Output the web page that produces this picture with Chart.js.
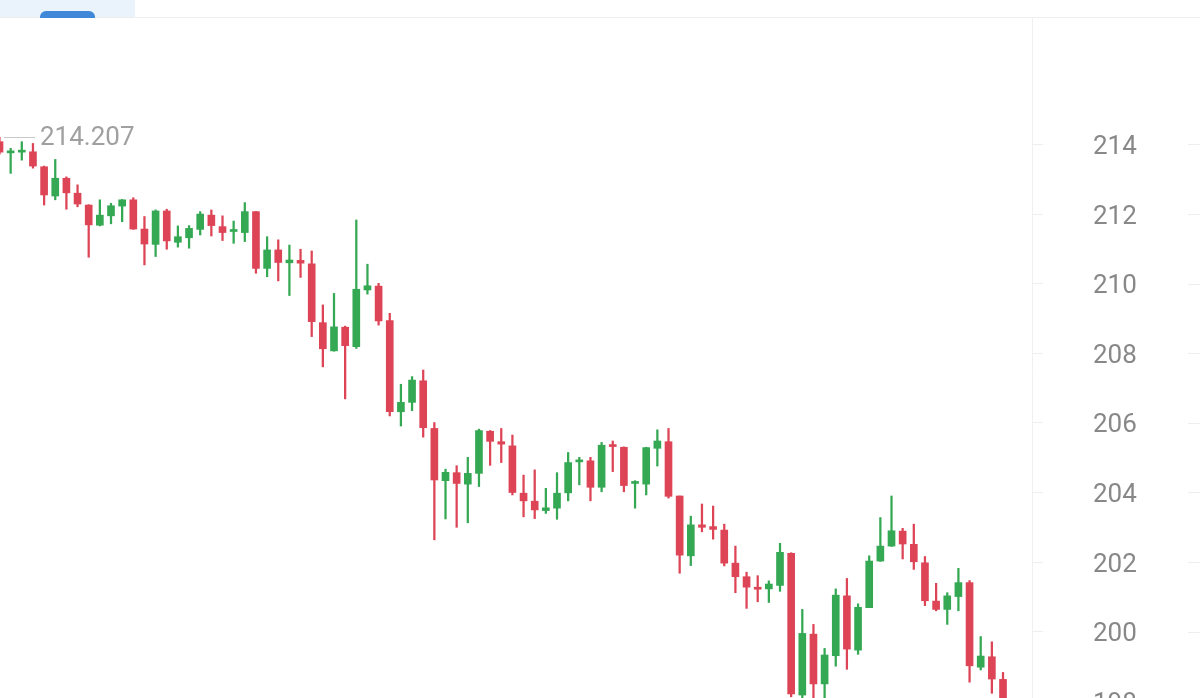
<!DOCTYPE html>
<html>
<head>
<meta charset="utf-8">
<script src="https://cdn.jsdelivr.net/npm/chart.js@4.4.0/dist/chart.umd.min.js"></script>
<style>
  html, body { margin: 0; padding: 0; background: #fff; overflow: hidden; }
  body { width: 1200px; height: 698px; position: relative; }
  #wrap { position: absolute; left: 0; top: 0; width: 1200px; height: 740px; }
  #topbar { position: absolute; left: 0; top: 0; width: 1200px; height: 17px; background: #fff; border-bottom: 1px solid #eeeeee; z-index: 2; }
  #tab { position: absolute; left: 0; top: 0; width: 135px; height: 17px; background: #eaf2fc; }
  #btn { position: absolute; left: 40px; top: 11px; width: 55px; height: 7px; background: #3f87d9; border-radius: 6px 6px 0 0; }
</style>
</head>
<body>
<div id="wrap"><canvas id="myChart" width="1200" height="740"></canvas></div>
<div id="topbar"><div id="tab"></div><div id="btn"></div></div>
<script>
// candles, oldest first
const opens = [
  214.08, 213.76, 213.78, 213.79, 213.36, 212.52, 213.03, 212.60, 212.26, 211.68,
  211.95, 212.23, 212.41, 211.57, 211.13, 212.09, 211.19, 211.32, 211.56, 211.97,
  211.64, 211.50, 211.47, 212.07, 210.44, 210.97, 210.60, 210.67, 210.57, 208.88,
  208.07, 208.75, 208.19, 209.82, 209.93, 208.94, 206.32, 206.59, 207.21, 205.84,
  204.34, 204.57, 204.24, 204.55, 205.76, 205.46, 205.34, 203.98, 203.75, 203.48,
  203.55, 203.99, 204.88, 204.91, 204.15, 205.36, 205.30, 204.26, 204.24, 205.27,
  205.46, 203.90, 202.18, 203.07, 203.02, 202.92, 201.97, 201.58, 201.26, 201.23,
  201.33, 202.25, 198.18, 199.93, 198.50, 199.31, 201.03, 199.47, 200.69, 202.03,
  202.46, 202.89, 202.51, 201.98, 200.88, 200.64, 201.01, 201.41, 198.98, 199.28,
  198.63
];
const highs = [
  214.207, 213.89, 214.08, 214.03, 213.38, 213.57, 213.07, 212.84, 212.27, 212.41,
  212.31, 212.42, 212.47, 211.93, 212.12, 212.14, 211.66, 211.67, 212.07, 212.12,
  211.95, 211.80, 212.33, 212.08, 211.35, 211.26, 211.11, 210.99, 210.94, 209.39,
  209.72, 208.78, 211.83, 210.56, 210.01, 209.15, 207.11, 207.33, 207.52, 206.01,
  204.67, 204.77, 205.01, 205.82, 205.78, 205.84, 205.65, 204.50, 204.65, 204.12,
  204.57, 205.15, 205.01, 205.01, 205.44, 205.48, 205.31, 204.34, 205.30, 205.80,
  205.84, 203.90, 203.32, 203.67, 203.61, 203.09, 202.46, 201.71, 201.61, 201.46,
  202.54, 202.27, 200.64, 200.21, 199.52, 201.23, 201.53, 200.80, 202.18, 203.28,
  203.90, 202.97, 203.09, 202.16, 201.39, 201.12, 201.82, 201.47, 199.86, 199.71,
  198.83
];
const lows = [
  213.72, 213.17, 213.55, 213.32, 212.26, 212.41, 212.14, 212.21, 210.76, 211.66,
  211.72, 211.78, 211.56, 210.54, 210.78, 210.99, 211.05, 211.02, 211.40, 211.37,
  211.24, 211.16, 211.21, 210.30, 210.20, 210.08, 209.66, 210.18, 208.48, 207.61,
  208.06, 206.69, 208.14, 209.70, 208.81, 206.20, 205.91, 206.35, 205.59, 202.64,
  203.24, 203.00, 203.13, 204.17, 204.78, 204.86, 203.93, 203.30, 203.25, 203.40,
  203.23, 203.76, 204.22, 203.76, 204.02, 204.60, 204.02, 203.55, 203.93, 204.76,
  203.84, 201.68, 201.90, 202.87, 202.66, 201.89, 201.12, 200.67, 200.86, 200.84,
  201.16, 198.13, 197.80, 197.75, 197.85, 199.01, 198.92, 199.35, 200.69, 202.02,
  202.45, 202.09, 201.79, 200.75, 200.60, 200.21, 200.60, 198.55, 198.90, 198.23,
  197.60
];
const closes = [
  213.78, 213.81, 213.82, 213.38, 212.55, 213.03, 212.61, 212.29, 211.69, 211.97,
  212.24, 212.41, 211.57, 211.14, 212.09, 211.23, 211.35, 211.59, 212.00, 211.67,
  211.47, 211.52, 212.07, 210.44, 210.97, 210.61, 210.68, 210.59, 208.91, 208.13,
  208.76, 208.22, 209.84, 209.94, 208.93, 206.32, 206.59, 207.23, 205.86, 204.36,
  204.58, 204.26, 204.55, 205.78, 205.47, 205.39, 204.00, 203.76, 203.50, 203.56,
  203.98, 204.86, 204.93, 204.15, 205.36, 205.32, 204.20, 204.31, 205.29, 205.48,
  203.89, 202.20, 203.07, 203.00, 202.94, 201.97, 201.58, 201.28, 201.22, 201.37,
  202.28, 198.21, 199.95, 198.50, 199.33, 201.05, 199.50, 200.70, 202.03, 202.46,
  202.90, 202.52, 202.01, 200.89, 200.64, 201.03, 201.41, 199.02, 199.30, 198.64,
  197.90
];
const yTicks = [198, 200, 202, 204, 206, 208, 210, 212, 214];
const maxMark = 214.207;

const UP = "#34a853";
const DOWN = "#dd4456";
const colors = opens.map((o, i) => closes[i] >= o ? UP : DOWN);

const bodies = opens.map((o, i) => ({ x: i, y: [o, closes[i]] }));
const wicks = lows.map((l, i) => ({ x: i, y: [l, highs[i]] }));

// short ticks on the far right edge + the max price marker
const extras = {
  id: 'extras',
  afterDraw(chart) {
    const ctx = chart.ctx;
    const y = chart.scales.y;
    ctx.save();
    ctx.strokeStyle = "#eeeeee";
    ctx.lineWidth = 1;
    yTicks.forEach(v => {
      const py = Math.round(y.getPixelForValue(v)) + 0.5;
      ctx.beginPath();
      ctx.moveTo(1188, py);
      ctx.lineTo(1200, py);
      ctx.stroke();
    });
    const my = Math.round(y.getPixelForValue(maxMark)) + 0.5;
    ctx.strokeStyle = "#c8c8c8";
    ctx.beginPath();
    ctx.moveTo(4, my);
    ctx.lineTo(35, my);
    ctx.stroke();
    ctx.fillStyle = "#a0a0a0";
    ctx.font = "26px Roboto";
    ctx.textBaseline = "middle";
    ctx.fillText(maxMark.toFixed(3), 40, my + 1);
    ctx.restore();
  }
};

new Chart(document.getElementById("myChart"), {
  type: 'bar',
  data: {
    datasets: [
      {
        data: wicks,
        backgroundColor: colors,
        barThickness: 1.6,
        grouped: false,
        borderWidth: 0,
        order: 2
      },
      {
        data: bodies,
        backgroundColor: colors,
        barThickness: 7,
        minBarLength: 2,
        grouped: false,
        borderWidth: 0,
        order: 1
      }
    ]
  },
  options: {
    responsive: false,
    animation: false,
    layout: { padding: 0 },
    plugins: { legend: { display: false }, tooltip: { enabled: false } },
    scales: {
      x: {
        type: 'linear',
        display: false,
        offset: false,
        min: 0.045,
        max: 92.6
      },
      y: {
        position: 'right',
        min: 196.888,
        max: 218.152,
        afterBuildTicks: s => { s.ticks = yTicks.map(v => ({ value: v })); },
        afterFit: s => { s.width = 168; s.paddingTop = 0; s.paddingBottom = 0; },
        border: { display: true, color: "#f0f0f0", width: 1 },
        grid: { drawOnChartArea: false, drawTicks: true, tickLength: 11, color: "#eeeeee" },
        ticks: {
          crossAlign: 'center',
          padding: 50,
          color: "#888888",
          font: { family: "Roboto", size: 26, lineHeight: '6px' },
          // empty first line nudges the label down a few px
          callback: v => ['', String(v)]
        }
      }
    }
  },
  plugins: [extras]
});
</script>
</body>
</html>
